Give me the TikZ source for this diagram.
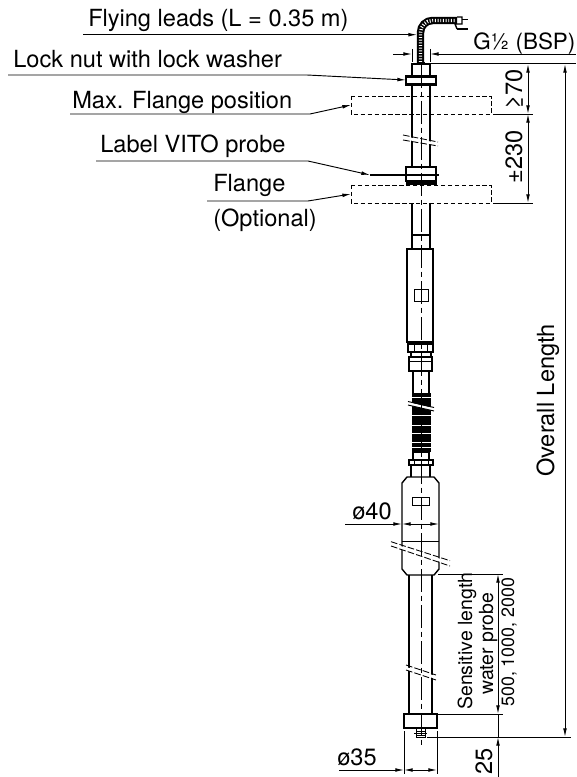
\documentclass[tikz,border=0pt]{standalone}
\usepackage{fontspec}
\setmainfont{TeX Gyre Heros}
\usetikzlibrary{arrows.meta}

\begin{document}
\begin{tikzpicture}[
            x=0.75pt, y=-0.75pt,
            >={Latex[length=6.5pt,width=2.8pt]},
            outline/.style={line width=1.05pt},
            heavy outline/.style={line width=1.3pt},
            thin line/.style={line width=0.6pt},
            centre line/.style={line width=0.6pt, dash pattern=on 17pt off 3pt on 4pt off 3pt},
            dashed box/.style={line width=0.65pt, dash pattern=on 3.2pt off 2pt},
            break line/.style={line width=0.65pt, dash pattern=on 5pt off 1.6pt},
            leader/.style={line width=0.7pt},
            dim/.style={line width=0.7pt},
            label/.style={font=\fontsize{17.7}{20}\selectfont, inner sep=0pt, anchor=base west},
            small label/.style={font=\fontsize{14.6}{18}\selectfont, inner sep=0pt, anchor=base west, rotate=90},
            side label/.style={label, rotate=90}
            ]

            \useasboundingbox (0,0) rectangle (576,777);

            % cable
            \draw[line width=5.6pt, rounded corners=9pt] (420.5,64) -- (420.5,20.5) -- (457,20.5);
            \draw[white, line width=2.6pt, dash pattern=on 0.7pt off 1.3pt, rounded corners=9pt] (420.5,62) -- (420.5,20.5) -- (456,20.5);
            \draw[outline] (457,17) -- (462,17) -- (462,24) -- (455,24) -- (457,29);
            \draw[heavy outline] (462,19.5) -- (468,19.5);
            \draw[heavy outline] (457,29) -- (468,29);

            % top fitting
            \draw[outline] (412,75) -- (412,64) -- (430,64) -- (430,75);
            \draw[line width=2pt] (417,63) -- (425,63);
            \draw[outline, fill=white] (406,75.5) rectangle (436,85);
            \draw[line width=2.2pt] (406,76.5) -- (436,76.5);
            \draw[line width=2.2pt] (406,84) -- (436,84);
            \draw[thin line] (421,75) -- (421,85);

            % upper tube
            \draw[outline] (412,85) -- (412,167);
            \draw[outline] (430,85) -- (430,167);
            \fill[white] (403,136) -- (438,143) -- (438,146) -- (403,139) -- cycle;
            \draw[break line] (403,135) -- (438,142);
            \draw[break line] (403,140) -- (438,146);

            % label ring
            \draw[outline] (406,167) rectangle (436,181);
            \fill (405.5,181) rectangle (436.5,185);

            % flange positions
            \draw[dashed box] (351,96) rectangle (491,114);
            \draw[dashed box] (351,185) rectangle (491,203);

            % sleeve
            \draw[outline] (412,203) -- (412,235);
            \draw[outline] (430,203) -- (430,235);
            \draw[outline] (412,235) rectangle (430,249);
            \draw[outline] (407,249) rectangle (433,342);
            \draw[thin line] (414,289) rectangle (428,301);

            % nut and coupling
            \draw[outline] (408,344) rectangle (433,352);
            \draw[thin line] (414,344) -- (414,352);
            \draw[thin line] (427,344) -- (427,352);
            \draw[outline] (411,352) rectangle (431,357);
            \draw[outline] (409,357) rectangle (432,371);
            \draw[thin line] (409,361) -- (432,361);
            \draw[outline] (413,371) -- (413,393);
            \draw[outline] (429,371) -- (429,393);

            % bellows
            \fill (412,393) rectangle (431,452);
            \foreach \ribY in {397,415,425,433,442,447} {
                \draw[white, line width=0.4pt] (411,\ribY) -- (432,\ribY);
            }
            \fill[white] (408,402) -- (434,408) -- (434,411) -- (408,405) -- cycle;
            \draw[line width=0.7pt] (408,401.5) -- (434,407.5);
            \draw[line width=0.7pt] (408,405) -- (434,411);

            % lower fitting
            \draw[outline] (413,452) rectangle (429,460);
            \draw[outline] (409,460) rectangle (433,465);
            \draw[thin line] (414,460) -- (414,465);
            \draw[thin line] (428,460) -- (428,465);
            \draw[outline] (411,465) -- (411,477);
            \draw[outline] (430,465) -- (430,477);

            % housing
            \draw[outline] (402,483) -- (407,477) -- (434,477) -- (439,483) -- (439,569) -- (434,575)
                -- (407,575) -- (402,569) -- cycle;
            \draw[thin line] (412,497) rectangle (429,505);
            \draw[thin line] (402,541.7) -- (439,541.7);
            \fill[white] (391,543) -- (450,562) -- (450,565) -- (391,546) -- cycle;
            \draw[break line] (391,541.7) -- (450,560.7);
            \draw[break line] (391,546) -- (450,566);

            % probe tube
            \draw[outline] (409,575) -- (409,714);
            \draw[outline] (432,575) -- (432,714);
            \fill[white] (406,667) -- (436,676) -- (436,679) -- (406,670) -- cycle;
            \draw[break line] (406,665) -- (436,675);
            \draw[break line] (406,670) -- (436,680);

            % probe tip
            \draw[outline] (404,714) rectangle (437,728);
            \draw[thin line] (416,729) -- (416,737) -- (425,737) -- (425,729);
            \foreach \tipY in {731,733,735} {
                \draw[thin line] (416,\tipY) -- (425,\tipY);
            }
            \draw[thin line] (414,733) -- (427,733);

            % axis
            \draw[centre line] (421,65) -- (421,746);

            % labels
            \node[label] (flyingtext)  at (88,27)   {Flying leads (L = 0.35 m)};
            \node[label] (nuttext)     at (13,68)   {Lock nut with lock washer};
            \node[label] (maxtext)     at (72,109)  {Max. Flange position};
            \node[label] (vitotext)    at (100,153) {Label VITO probe};
            \node[label] (flangetext)  at (213,192) {Flange};
            \node[label] (optionaltext) at (213,227) {(Optional)};
            \node[label, font=\fontsize{16.8}{20}\selectfont] (threadtext) at (473,50) {G½ (BSP)};
            \node[label] (dia40text)   at (352,519) {ø40};
            \node[label] (dia35text)   at (337,765) {ø35};
            \node[side label] (min70text)  at (522,110) {≥70};
            \node[side label] (pos230text) at (522,184) {±230};
            \node[side label] (overalltext) at (554,477) {Overall Length};
            \node[side label] (tip25text)  at (492,775) {25};
            \node[small label] (sensetext) at (472,710) {Sensitive length};
            \node[small label] (watertext) at (493,695) {water probe};
            \node[small label, font=\fontsize{13.4}{16}\selectfont] (sizetext) at (514,707) {500, 1000, 2000};

            % leaders
            \coordinate (flyingstart) at (83,34.7);
            \coordinate (flyingtip)   at (417,34.7);
            \coordinate (nutstart)    at (8,75);
            \coordinate (nutbend)     at (307,75);
            \coordinate (nuttip)      at (406,80);
            \coordinate (maxstart)    at (70,114);
            \coordinate (maxbend)     at (310,114);
            \coordinate (maxtip)      at (351,105);
            \coordinate (vitostart)   at (96,161);
            \coordinate (vitobend)    at (308,161);
            \coordinate (vitotip)     at (370,175);
            \coordinate (vitoend)     at (439,175);
            \coordinate (flangestart) at (207,201);
            \coordinate (flangebend)  at (308,201);
            \coordinate (flangetip)   at (351,194);

            \draw[leader, ->] (flyingstart) -- (flyingtip);
            \draw[leader, ->] (nutstart) -- (nutbend) -- (nuttip);
            \draw[leader, ->] (maxstart) -- (maxbend) -- (maxtip);
            \draw[leader, ->] (vitostart) -- (vitobend) -- (vitotip);
            \draw[line width=1.1pt] (vitotip) -- (vitoend);
            \draw[leader, ->] (flangestart) -- (flangebend) -- (flangetip);

            % thread dimension
            \coordinate (threadleft)  at (412,54);
            \coordinate (threadright) at (430,54);
            \draw[thin line] (412,49) -- (412,62);
            \draw[thin line] (430,49) -- (430,62);
            \draw[dim, <-] (threadleft) -- (393,54);
            \draw[dim, <-] (threadright) -- (576,54);

            % extension lines
            \draw[dim] (431,63) -- (576,63);
            \draw[dim] (493,114) -- (533,114);
            \draw[dim] (493,203) -- (533,203);
            \draw[dim] (438,574) -- (503,574);
            \draw[dim] (438,714) -- (503,714);
            \draw[dim] (427,737) -- (571,737);
            \draw[thin line] (404,731) -- (404,774);
            \draw[thin line] (437,731) -- (437,774);

            % dimensions
            \draw[dim, <->] (528,64) -- (528,114);
            \draw[dim, <->] (528,114) -- (528,203);
            \draw[dim, <->] (565,64) -- (565,737);
            \draw[dim, <->] (498,574) -- (498,714);
            \draw[dim, <-] (498,737) -- (498,777);
            \draw[dim] (498,714) -- (498,737);

            % diameters
            \draw[dim, ->] (345,524) -- (402,524);
            \draw[dim, <->] (402,524) -- (439,524);
            \draw[dim, ->] (339,770) -- (404,770);
            \draw[dim, <->] (404,770) -- (437,770);

        \end{tikzpicture}
\end{document}
